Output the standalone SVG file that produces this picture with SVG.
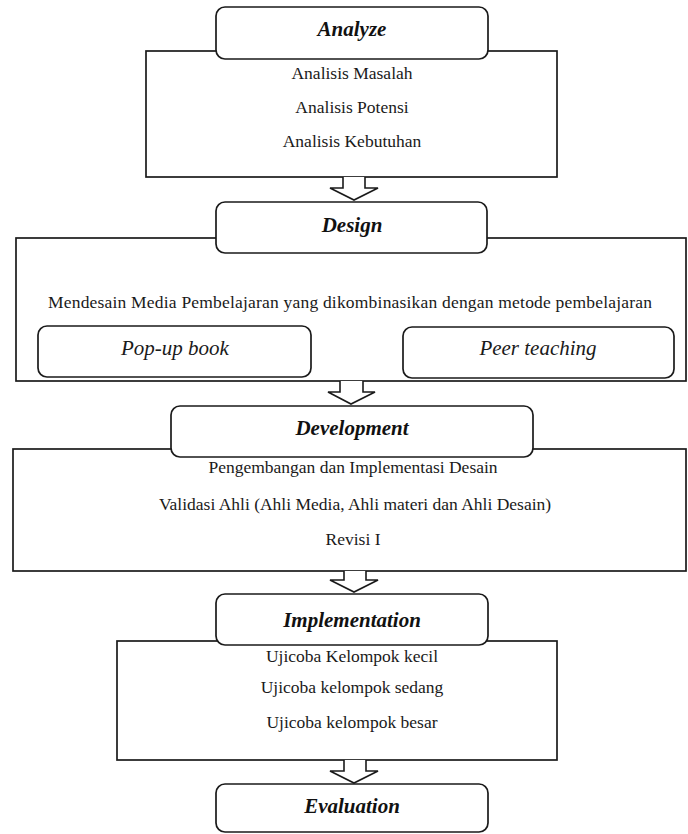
<svg xmlns="http://www.w3.org/2000/svg" width="688" height="834" viewBox="0 0 688 834">
<style>
.box{fill:#fff;stroke:#1a1a1a;stroke-width:1.7}
.hdr{fill:#fff;stroke:#1a1a1a;stroke-width:1.7}
.arr{fill:#fff;stroke:#1a1a1a;stroke-width:1.6;stroke-linejoin:miter}
.t{font-family:"Liberation Serif","Times New Roman",serif;font-size:17.5px;fill:#1a1a1a;text-anchor:middle}
.h{font-family:"Liberation Serif","Times New Roman",serif;font-size:21px;font-weight:bold;font-style:italic;fill:#111;text-anchor:middle}
.i{font-family:"Liberation Serif","Times New Roman",serif;font-size:21px;font-style:italic;fill:#1a1a1a;text-anchor:middle}
</style>
<rect width="688" height="834" fill="#fff"/>
<g id="analyze">
<rect class="box" x="146" y="51" width="411" height="126"/>
<rect class="hdr" x="216" y="7" width="272" height="52" rx="9"/>
<text class="h" x="352" y="36">Analyze</text>
<text class="t" x="352" y="79">Analisis Masalah</text>
<text class="t" x="352" y="113">Analisis Potensi</text>
<text class="t" x="352" y="147">Analisis Kebutuhan</text>
</g>
<g id="design">
<rect class="box" x="16" y="238" width="670" height="143"/>
<rect class="hdr" x="216" y="202" width="271" height="51" rx="9"/>
<text class="h" x="352" y="232">Design</text>
<text class="t" x="350" y="308" textLength="604" lengthAdjust="spacing">Mendesain Media Pembelajaran yang dikombinasikan dengan metode pembelajaran</text>
<g id="popup">
<rect class="hdr" x="38" y="326" width="273" height="51" rx="9"/>
<text class="i" x="175" y="355">Pop-up book</text>
</g>
<g id="peer">
<rect class="hdr" x="403" y="327" width="271" height="51" rx="9"/>
<text class="i" x="538" y="355">Peer teaching</text>
</g>
</g>
<g id="development">
<rect class="box" x="13" y="449" width="673" height="122"/>
<rect class="hdr" x="171" y="406" width="362" height="51" rx="9"/>
<text class="h" x="352" y="435">Development</text>
<text class="t" x="353" y="473">Pengembangan dan Implementasi Desain</text>
<text class="t" x="355" y="510">Validasi Ahli (Ahli Media, Ahli materi dan Ahli Desain)</text>
<text class="t" x="353" y="545">Revisi I</text>
</g>
<g id="implementation">
<rect class="box" x="117" y="641" width="440" height="119"/>
<rect class="hdr" x="216" y="594" width="272" height="51" rx="9"/>
<text class="h" x="352" y="627">Implementation</text>
<text class="t" x="352" y="662">Ujicoba Kelompok kecil</text>
<text class="t" x="352" y="693">Ujicoba kelompok sedang</text>
<text class="t" x="352" y="728">Ujicoba kelompok besar</text>
</g>
<g id="evaluation">
<rect class="hdr" x="216" y="784" width="272" height="48" rx="9"/>
<text class="h" x="352" y="813">Evaluation</text>
</g>
<g id="connectors">
<path class="arr" d="M343 177 V188 H330 L354 200 L378 188 H365 V177"/>
<path class="arr" d="M340 381 V392 H328 L351 404 L375 392 H363 V381"/>
<path class="arr" d="M344 571 V580 H330 L354 592 L378 580 H366 V571"/>
<path class="arr" d="M344 760 V771 H330 L354 783 L378 771 H366 V760"/>
</g>
</svg>
